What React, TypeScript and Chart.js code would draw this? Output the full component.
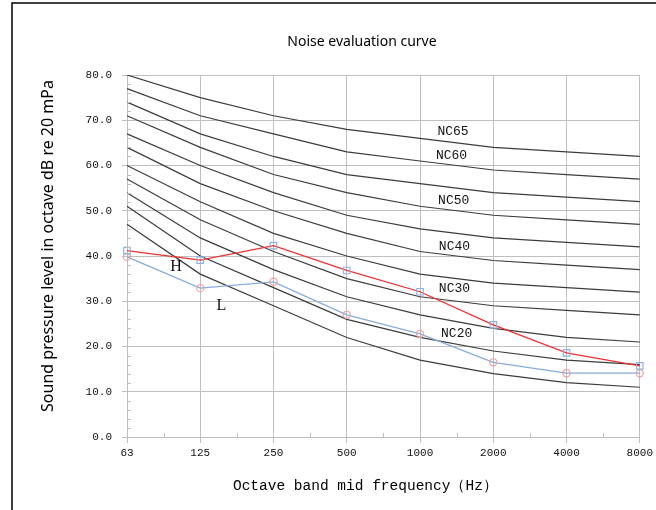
import React, { useEffect, useRef } from 'react';
import { Chart, registerables } from 'chart.js';

Chart.register(...registerables);

// ---- data ----
const FREQUENCIES = ['63', '125', '250', '500', '1000', '2000', '4000', '8000'];

const NC15 = [47, 36, 29, 22, 17, 14, 12, 11];
const NC20 = [51, 40, 33, 26, 22, 19, 17, 16];
const NC25 = [54, 44, 37, 31, 27, 24, 22, 21];
const NC30 = [57, 48, 41, 35, 31, 29, 28, 27];
const NC35 = [60, 52, 45, 40, 36, 34, 33, 32];
const NC40 = [64, 56, 50, 45, 41, 39, 38, 37];
const NC45 = [67, 60, 54, 49, 46, 44, 43, 42];
const NC50 = [71, 64, 58, 54, 51, 49, 48, 47];
const NC55 = [74, 67, 62, 58, 56, 54, 53, 52];
const NC60 = [77, 71, 67, 63, 61, 59, 58, 57];
const NC65 = [80, 75, 71, 68, 66, 64, 63, 62];
const NC_CURVES = [NC15, NC20, NC25, NC30, NC35, NC40, NC45, NC50, NC55, NC60, NC65];
const NC_NAMES = ['NC15', 'NC20', 'NC25', 'NC30', 'NC35', 'NC40', 'NC45', 'NC50', 'NC55', 'NC60', 'NC65'];

const H_LEVELS = [41.2, 39.1, 42.3, 36.8, 32.1, 24.8, 18.6, 15.7];
const L_LEVELS = [39.8, 32.9, 34.3, 27.0, 22.8, 16.5, 14.1, 14.1];

const Y_MIN = 0;
const Y_MAX = 80;
const Y_STEP = 10;
const Y_MINOR_STEP = 2;

// annotation text, anchored in data space (category index, dB level)
const NC_LABEL_TEXT = ['NC65', 'NC60', 'NC50', 'NC40', 'NC30', 'NC20'];
const NC_LABEL_AT = [4.45, 4.43, 4.46, 4.47, 4.47, 4.5];
const NC_LABEL_LEVEL = [67.6, 62.3, 52.2, 42.0, 32.7, 22.8];
const SERIES_LABEL_TEXT = ['H', 'L'];
const SERIES_LABEL_AT = [0.67, 1.29];
const SERIES_LABEL_LEVEL = [37.6, 28.9];

const TITLE = 'Noise evaluation curve';
const X_TITLE = 'Octave band mid frequency（Hz）';
const Y_TITLE = 'Sound pressure level in octave dB re 20 mPa';

const GRID = '#BFBFBF';
const MONO = '"Liberation Mono", "DejaVu Sans Mono", monospace';

const decorPlugin = {
  id: 'decor',
  beforeDraw(chart: any) {
    const { ctx, width, height } = chart;
    ctx.save();
    ctx.fillStyle = '#ffffff';
    ctx.fillRect(0, 0, width, height);
    // outer frame
    ctx.strokeStyle = '#000000';
    ctx.lineWidth = 1.5;
    ctx.beginPath();
    ctx.moveTo(12, height);
    ctx.lineTo(12, 3);
    ctx.lineTo(width, 3);
    ctx.stroke();
    ctx.restore();
  },
  afterDraw(chart: any) {
    const { ctx, chartArea } = chart;
    const xs = chart.scales.x;
    const ys = chart.scales.y;
    ctx.save();
    // minor ticks (inside)
    ctx.strokeStyle = GRID;
    ctx.lineWidth = 1;
    ctx.beginPath();
    for (let v = Y_MIN; v <= Y_MAX; v += Y_MINOR_STEP) {
      if (v % Y_STEP === 0) continue;
      const y = Math.round(ys.getPixelForValue(v)) + 0.5;
      ctx.moveTo(chartArea.left, y);
      ctx.lineTo(chartArea.left + 4, y);
    }
    for (let i = 0; i < FREQUENCIES.length - 1; i++) {
      const x = Math.round(xs.getPixelForValue(i + 0.5)) + 0.5;
      ctx.moveTo(x, chartArea.bottom);
      ctx.lineTo(x, chartArea.bottom - 4);
    }
    ctx.stroke();

    // NC labels
    ctx.fillStyle = '#111111';
    ctx.textAlign = 'center';
    ctx.textBaseline = 'middle';
    ctx.font = `13px ${MONO}`;
    NC_LABEL_TEXT.forEach((t, i) => {
      ctx.fillText(t, xs.getPixelForValue(NC_LABEL_AT[i]), ys.getPixelForValue(NC_LABEL_LEVEL[i]));
    });
    ctx.font = '16px "Liberation Serif", "DejaVu Serif", serif';
    SERIES_LABEL_TEXT.forEach((t, i) => {
      ctx.fillText(t, xs.getPixelForValue(SERIES_LABEL_AT[i]), ys.getPixelForValue(SERIES_LABEL_LEVEL[i]));
    });

    // titles
    ctx.fillStyle = '#000000';
    ctx.font = '14px "Noto Sans", "Open Sans", sans-serif';
    ctx.fillText(TITLE, 362, 42);
    ctx.font = `14.5px ${MONO}`;
    ctx.fillText(X_TITLE, (chartArea.left + chartArea.right) / 2 - 18, 486);
    ctx.translate(48, 246);
    ctx.rotate(-Math.PI / 2);
    ctx.font = '16px "Noto Sans", "Open Sans", sans-serif';
    ctx.fillText(Y_TITLE, 0, 0);
    ctx.restore();
  },
};

export default function App() {
  const ref = useRef<HTMLCanvasElement | null>(null);

  useEffect(() => {
    document.body.style.margin = '0';
    const canvas = ref.current;
    if (!canvas) return;

    const ncSets = NC_CURVES.map((d, i) => ({
      label: NC_NAMES[i],
      data: d,
      borderColor: '#3c3c3c',
      borderWidth: 1.2,
      pointRadius: 0,
      pointHoverRadius: 0,
      fill: false,
      tension: 0,
    }));

    const chart = new Chart(canvas, {
      type: 'line',
      data: {
        labels: FREQUENCIES,
        datasets: [
          {
            label: 'H',
            data: H_LEVELS,
            borderColor: '#EE3030',
            borderWidth: 1.3,
            pointStyle: 'rect',
            pointRadius: 4.6,
            pointBorderColor: '#8DB4E2',
            pointBackgroundColor: 'rgba(255,255,255,0)',
            pointBorderWidth: 1.2,
            tension: 0,
            fill: false,
          },
          {
            label: 'L',
            data: L_LEVELS,
            borderColor: '#86ACDD',
            borderWidth: 1.3,
            pointStyle: 'circle',
            pointRadius: 3.6,
            pointBorderColor: '#F0A0A0',
            pointBackgroundColor: 'rgba(255,255,255,0)',
            pointBorderWidth: 1.2,
            tension: 0,
            fill: false,
          },
          ...ncSets,
        ],
      },
      options: {
        responsive: false,
        animation: false,
        events: [],
        layout: { padding: { left: 0, right: 14, top: 75, bottom: 0 } },
        plugins: {
          legend: { display: false },
          title: { display: false },
          tooltip: { enabled: false },
        },
        scales: {
          x: {
            type: 'category',
            offset: false,
            grid: { color: GRID, tickLength: 6, lineWidth: 1 },
            border: { color: GRID },
            ticks: {
              color: '#111111',
              font: { family: MONO, size: 11 },
              padding: 3,
              maxRotation: 0,
              autoSkip: false,
            },
            afterFit: (s: any) => {
              s.height = 73;
            },
          },
          y: {
            min: Y_MIN,
            max: Y_MAX,
            grid: { color: GRID, tickLength: 5, lineWidth: 1 },
            border: { color: GRID },
            ticks: {
              stepSize: Y_STEP,
              color: '#111111',
              font: { family: MONO, size: 11 },
              padding: 10,
              callback: (v: any) => Number(v).toFixed(1),
            },
            afterFit: (s: any) => {
              s.width = 127;
            },
          },
        },
      },
      plugins: [decorPlugin],
    });

    return () => chart.destroy();
  }, []);

  return <canvas ref={ref} width={656} height={510} style={{ display: 'block' }} />;
}
